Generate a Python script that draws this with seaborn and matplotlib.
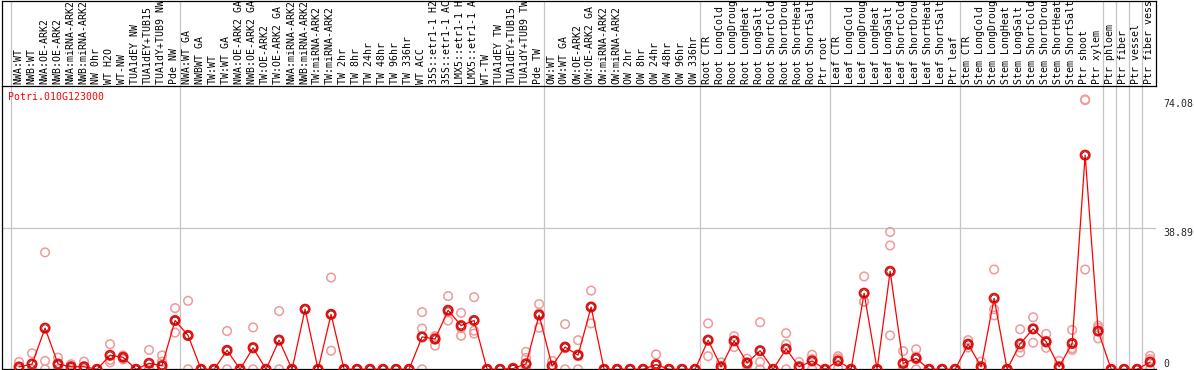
import numpy as np
import pandas as pd
import matplotlib
matplotlib.use("Agg")
import matplotlib.pyplot as plt
import matplotlib.transforms as mtransforms
import seaborn as sns

# ---------------- data ----------------
title = "Potri.010G123000"

# sample labels as they are visible in the (narrow) header
labels = [
    "NWA:WT", "NWB:WT", "NWA:OE-ARK2", "NWB:OE-ARK2", "NWA:miRNA-ARK2", "NWB:miRNA-ARK2",
    "NW 0hr", "WT H2O", "WT-NW", "TUA1dEY NW", "TUA1dEY+TUB15", "TUA1dY+TUB9 NW", "Pde NW",
    "NWA:WT GA", "NWBWT GA", "TW:WT", "TW:WT GA", "NWA:OE-ARK2 GA", "NWB:OE-ARK2 GA",
    "TW:OE-ARK2", "TW:OE-ARK2 GA", "NWA:miRNA-ARK2", "NWB:miRNA-ARK2", "TW:miRNA-ARK2",
    "TW:miRNA-ARK2", "TW 2hr", "TW 8hr", "TW 24hr", "TW 48hr", "TW 96hr", "TW 336hr",
    "WT ACC", "35S::etr1-1 H2", "35S::etr1-1 AC", "LMX5::etr1-1 H", "LMX5::etr1-1 A",
    "WT-TW", "TUA1dEY TW", "TUA1dEY+TUB15", "TUA1dY+TUB9 TW", "Pde TW",
    "OW:WT", "OW:WT GA", "OW:OE-ARK2", "OW:OE-ARK2 GA", "OW:miRNA-ARK2", "OW:miRNA-ARK2",
    "OW 2hr", "OW 8hr", "OW 24hr", "OW 48hr", "OW 96hr", "OW 336hr",
    "Root CTR", "Root LongCold", "Root LongDroug", "Root LongHeat", "Root LongSalt",
    "Root ShortCold", "Root ShortDrou", "Root ShortHeat", "Root ShortSalt", "Ptr root",
    "Leaf CTR", "Leaf LongCold", "Leaf LongDroug", "Leaf LongHeat", "Leaf LongSalt",
    "Leaf ShortCold", "Leaf ShortDrou", "Leaf ShortHeat", "Leaf ShortSalt", "Ptr leaf",
    "Stem CTR", "Stem LongCold", "Stem LongDroug", "Stem LongHeat", "Stem LongSalt",
    "Stem ShortCold", "Stem ShortDrou", "Stem ShortHeat", "Stem ShortSalt", "Ptr shoot",
    "Ptr xylem", "Ptr phloem", "Ptr fiber", "Ptr vessel", "Ptr fiber vess",
]

# index of the last sample of each group (group separators)
group_ends = [-1, 12, 40, 52, 62, 72, 83, 84, 85, 86]

means = [
    0.65, 1.45, 11.3, 1.45, 0.7, 0.7, 0, 3.85, 3.3, 0, 1.65, 1.0, 13.4,
    9.3, 0, 0, 5.2, 0, 5.9, 0, 8.0, 0, 16.5, 0, 15.1, 0, 0, 0, 0, 0, 0,
    8.9, 8.3, 16.2, 12.0, 13.4, 0, 0, 0.2, 1.5, 14.9,
    0.9, 6.1, 3.9, 17.1, 0, 0, 0, 0, 1.3, 0, 0, 0,
    8.0, 0.7, 7.8, 1.75, 5.1, 0, 5.6, 0.7, 2.3, 0,
    2.3, 0, 20.9, 0, 26.9, 1.6, 3.0, 0, 0, 0,
    6.9, 0.7, 19.5, 0, 7.0, 11.1, 7.6, 0.7, 7.1, 58.8,
    10.5, 0, 0, 0, 2.0,
]

replicates = [
    [2.0, 0, 0], [4.4, 0, 0], [32.1, 2.3, 0], [3.2, 1.1, 0], [1.4, 0.7, 0], [2.1, 0, 0],
    [0, 0, 0], [6.9, 2.6, 1.9], [3.8, 3.4, 2.7], [0, 0, 0], [5.3, 0, 0], [3.8, 2.1, 0],
    [16.8, 10.1, 13.3],
    [18.8, 9.2, 0], [0, 0, 0], [0, 0, 0], [10.5, 5.2, 0], [0, 0, 0], [11.5, 6.1, 0],
    [0, 0, 0], [16.0, 8.1, 0], [0, 0, 0], [16.5], [0, 0, 0], [25.2, 5.1, 15.0],
    [0, 0, 0], [0, 0, 0], [0, 0, 0], [0, 0, 0], [0, 0, 0], [0, 0, 0],
    [15.7, 11.2, 0], [9.1, 8.7, 6.5], [20.1, 15.6, 13.4], [15.5, 11.3, 9.2],
    [19.8, 10.6, 9.8], [0, 0, 0], [0, 0, 0], [0.5, 0, 0], [4.8, 3.1, 0],
    [17.9, 11.4, 15.4],
    [2.3, 0, 0], [12.4, 5.8, 0], [8.0, 3.6, 0], [21.6, 12.6, 17.1], [0, 0, 0], [0, 0, 0],
    [0, 0, 0], [0, 0, 0], [4.1, 0, 0], [0, 0, 0], [0, 0, 0], [0, 0, 0],
    [12.6, 3.6, 8.0], [1.9, 0, 0], [9.1, 6.1, 7.8], [2.9, 1.4, 1.0], [12.9, 2.0, 0],
    [0, 0, 0], [9.9, 6.9, 0], [2.0, 0, 0], [4.0, 2.8, 0], [0, 0, 0],
    [3.6, 3.0, 0.3], [0, 0, 0], [25.5, 18.6, 18.5], [0, 0, 0], [37.7, 34.0, 9.3],
    [5.0, 0, 0], [5.5, 3.5, 0], [0, 0, 0], [0, 0, 0], [0, 0, 0],
    [8.0, 6.0, 6.7], [2.1, 0, 0], [27.4, 16.5, 14.8], [0, 0, 0], [11.0, 4.6, 6.0],
    [14.3, 7.3, 11.0], [9.7, 5.9, 7.3], [2.3, 0, 0], [10.8, 5.3, 5.8], [74.08, 73.9, 27.4],
    [12.0, 8.5, 11.4], [0, 0, 0], [0, 0, 0], [0, 0, 0], [3.7, 2.8, 0],
]

ytick_values = [0, 38.89, 74.08]
ytick_labels = ["0", "38.89", "74.08"]
y_top = 77.78

# ---------------- frames ----------------
pos = np.arange(len(labels))
df_mean = pd.DataFrame({"pos": pos, "mean": means})
df_rep = pd.DataFrame(
    [(i, v) for i, reps in enumerate(replicates) for v in reps], columns=["pos", "value"]
)

# ---------------- style ----------------
sns.set_style("white")
plt.rcParams["font.family"] = ["DejaVu Sans Mono", "DejaVu Sans"]
FS = 7.1
RED = "#ff0000"
PINK = "#ee9a9a"
GRID = "#c4c4c4"

W, H = 1194, 370
fig = plt.figure(figsize=(W / 100, H / 100), dpi=100)
fig.patch.set_facecolor("white")


def rect(x0, y0, x1, y1):
    return [x0 / W, 1 - y1 / H, (x1 - x0) / W, (y1 - y0) / H]


ax = fig.add_axes(rect(1.5, 86, 1156, 369.3))
hx = fig.add_axes(rect(1.5, 0.5, 1156, 86))

xlim = (-1.35, 87.45)
for a in (ax, hx):
    a.set_xlim(*xlim)
    a.set_facecolor("white")
    for g in group_ends:
        a.axvline(g + 0.4, color=GRID, lw=0.9, zorder=0)

# ---- main plot ----
ax.set_ylim(0, y_top)
ax.axhline(ytick_values[1], color=GRID, lw=0.9, zorder=0)

sns.scatterplot(data=df_rep, x="pos", y="value", ax=ax, marker="o", s=38,
                color="none", edgecolor=PINK, linewidth=1.1, zorder=2, legend=False,
                clip_on=False)
ax.collections[-1].set_facecolor("none")
ax.collections[-1].set_edgecolor(PINK)

sns.lineplot(data=df_mean, x="pos", y="mean", ax=ax, color=RED, lw=0.9, zorder=3,
             legend=False)

sns.scatterplot(data=df_mean, x="pos", y="mean", ax=ax, marker="o", s=44,
                color="none", edgecolor=RED, linewidth=1.3, zorder=4, legend=False,
                clip_on=False)
ax.collections[-1].set_facecolor("none")
ax.collections[-1].set_edgecolor(RED)
sns.scatterplot(data=df_mean, x="pos", y="mean", ax=ax, marker="o", s=22,
                color="none", edgecolor="#400000", linewidth=0.5, zorder=5, legend=False,
                clip_on=False)
ax.collections[-1].set_facecolor("none")
ax.collections[-1].set_edgecolor("#400000")

ax.set_xlabel("")
ax.set_ylabel("")
ax.set_xticks([])
ax.yaxis.tick_right()
ax.set_yticks(ytick_values)
ax.set_yticklabels(ytick_labels, fontsize=FS)
ax.tick_params(axis="y", length=0, pad=5)
for lbl, v in zip(ax.get_yticklabels(), ytick_values):
    lbl.set_va("bottom" if v == 0 else "top")

for side in ("top", "right"):
    ax.spines[side].set_visible(False)
for side in ("left", "bottom"):
    ax.spines[side].set_color("black")
    ax.spines[side].set_linewidth(0.9)

ax.text((8 - 1.5) / 1154.5, 1 - (97 - 86) / 283.3, title, transform=ax.transAxes,
        color=RED, fontsize=FS, ha="left", va="center")

# ---- header with vertical labels ----
hx.set_ylim(0, 1)
hx.set_xticks([])
hx.set_yticks([])
for s in hx.spines.values():
    s.set_color("black")
    s.set_linewidth(0.9)
trans = mtransforms.blended_transform_factory(hx.transData, hx.transAxes)
for i, lab in enumerate(labels):
    hx.text(i - 0.08, 0.025, lab, rotation=90, ha="center", va="bottom",
            fontsize=FS, transform=trans, color="black")

fig.savefig("out.png", dpi=100, facecolor="white")
